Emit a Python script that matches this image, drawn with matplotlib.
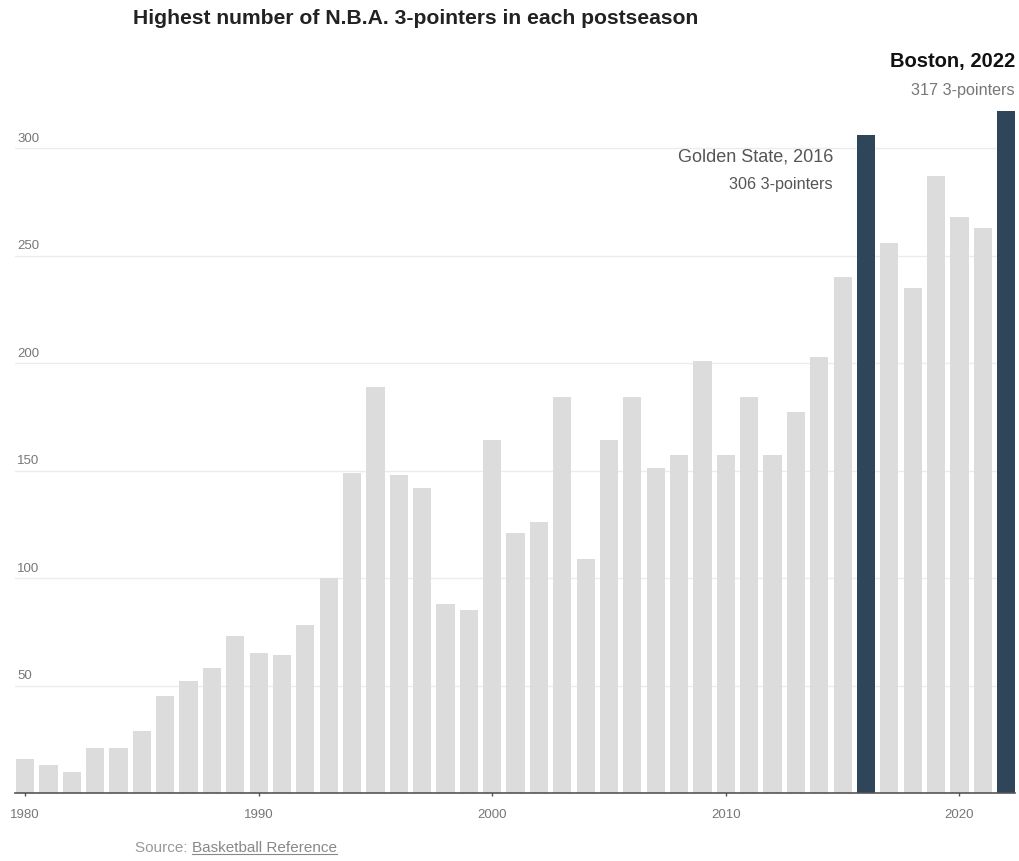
import matplotlib
matplotlib.use("Agg")
import matplotlib.pyplot as plt
from matplotlib import font_manager

years = list(range(1980, 2023))
threes = [16, 13, 10, 21, 21, 29, 45, 52, 58, 73,
          65, 64, 78, 100, 149, 189, 148, 142, 88, 85,
          164, 121, 126, 184, 109, 164, 184, 151, 157, 201,
          157, 184, 157, 177, 203, 240, 306, 256, 235, 287,
          268, 263, 317]
highlight_years = [2016, 2022]
yticks = [50, 100, 150, 200, 250, 300]
xticks = [1980, 1990, 2000, 2010, 2020]

names = {f.name for f in font_manager.fontManager.ttflist}
plain = "Liberation Sans" if "Liberation Sans" in names else "DejaVu Sans"
cond = "Liberation Sans Narrow" if "Liberation Sans Narrow" in names else plain

W, H = 1020, 861
fig = plt.figure(figsize=(W / 100, H / 100), dpi=100)
left_px, right_px, top_px, bot_px = 15, 1015, 60, 793
ax = fig.add_axes([left_px / W, 1 - bot_px / H, (right_px - left_px) / W, (bot_px - top_px) / H])

colors = ["#2f4559" if y in highlight_years else "#dcdcdc" for y in years]
ax.bar(years, threes, width=0.78, color=colors, zorder=2)

ax.set_xlim(1979.57, 2022.38)
ax.set_ylim(0, (bot_px - top_px) / 2.15)

for v in yticks:
    ax.axhline(v, color="#ececec", lw=1.0, zorder=1)
    ax.text(0.002, v + 1.6, str(v), transform=ax.get_yaxis_transform(), ha="left", va="bottom",
            fontsize=9.5, color="#777777", family=plain)

ax.set_yticks([])
ax.set_xticks(xticks)
ax.set_xticklabels([str(x) for x in xticks], fontsize=9.5, color="#777777", family=plain)
ax.tick_params(axis="x", length=5, width=1, color="#555555", pad=9, direction="inout")
for s in ["top", "right", "left"]:
    ax.spines[s].set_visible(False)
ax.spines["bottom"].set_color("#555555")
ax.spines["bottom"].set_linewidth(1.2)
ax.spines["bottom"].set_zorder(3)

fig.text(133 / W, 1 - 19 / H, "Highest number of N.B.A. 3-pointers in each postseason",
         ha="left", va="center", fontsize=15.2, fontweight="bold", color="#222222", family=cond)

fig.text(1015 / W, 1 - 62 / H, "Boston, 2022", ha="right", va="center",
         fontsize=14.5, fontweight="bold", color="#111111", family=cond)
fig.text(1015 / W, 1 - 90 / H, "317 3-pointers", ha="right", va="center",
         fontsize=11.6, color="#777777", family=plain)
fig.text(833 / W, 1 - 157 / H, "Golden State, 2016", ha="right", va="center",
         fontsize=13, color="#555555", family=plain)
fig.text(833 / W, 1 - 185 / H, "306 3-pointers", ha="right", va="center",
         fontsize=11.6, color="#555555", family=plain)

t1 = fig.text(135 / W, 1 - 848 / H, "Source: ", ha="left", va="center",
              fontsize=11, color="#999999", family=plain)
fig.canvas.draw()
bb = t1.get_window_extent()
t2 = fig.text(bb.x1 / W, 1 - 848 / H, "Basketball Reference", ha="left", va="center",
              fontsize=11, color="#888888", family=plain)
fig.canvas.draw()
bb2 = t2.get_window_extent()
fig.add_artist(plt.Line2D([bb2.x0 / W, bb2.x1 / W], [(bb2.y0 + 1) / H, (bb2.y0 + 1) / H],
                          color="#888888", lw=0.8, transform=fig.transFigure))

fig.savefig("out.png", dpi=100, facecolor="white")
